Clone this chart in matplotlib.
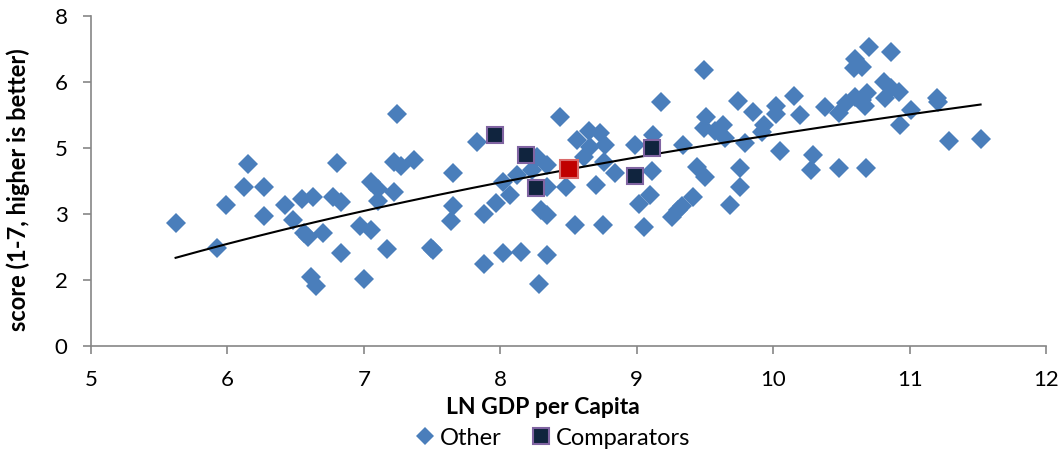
import numpy as np
import matplotlib
matplotlib.use("Agg")
import matplotlib.pyplot as plt
from matplotlib.lines import Line2D

# LN GDP per capita vs score
other_x = [5.62, 5.92, 5.99, 6.15, 6.12, 6.27, 6.27, 6.42, 6.48, 6.55,
           6.63, 6.77, 6.83, 6.80, 6.56, 6.59, 6.70, 6.83, 6.61, 6.65,
           7.24, 7.22, 7.27, 7.37, 7.05, 7.10, 7.22, 7.10, 6.97, 7.05,
           7.17, 7.49, 7.51, 7.00, 7.65, 7.65, 7.64, 7.83, 7.88, 7.97,
           8.02, 8.07, 8.12, 7.88, 8.02, 8.15, 8.28, 8.34, 8.30, 8.34,
           8.55, 8.48, 8.44, 8.27, 8.34, 8.23, 8.34, 8.56, 8.65, 8.73,
           8.66, 8.77, 8.61, 8.76, 8.84, 8.70, 8.75,
           9.49, 9.18, 8.99, 9.12, 9.11, 9.10, 9.02, 9.05, 9.26, 9.30,
           9.33, 9.41, 9.44, 9.50, 9.34, 9.51, 9.49, 9.57, 9.63, 9.65,
           9.74, 9.76, 9.76, 9.68, 9.79, 9.85, 9.93, 9.92, 10.02, 10.02,
           10.05, 10.15, 10.20, 10.29, 10.28, 10.38, 10.48, 10.48, 10.53,
           10.70, 10.86, 10.60, 10.65, 10.59, 10.81, 10.82, 10.92, 10.86,
           10.69, 10.65, 10.67, 10.60, 11.01, 10.93, 11.20, 11.21, 11.29,
           11.52, 10.68]
other_y = [2.99, 2.37, 3.43, 4.41, 3.85, 3.85, 3.16, 3.43, 3.05, 3.57,
           3.60, 3.62, 3.48, 4.43, 2.73, 2.65, 2.75, 2.25, 1.68, 1.46,
           5.62, 4.47, 4.36, 4.51, 3.98, 3.80, 3.74, 3.52, 2.91, 2.81,
           2.34, 2.38, 2.33, 1.62, 4.20, 3.39, 3.04, 4.95, 3.20, 3.46,
           3.98, 3.66, 4.15, 1.99, 2.25, 2.29, 1.50, 2.21, 3.30, 3.18,
           2.93, 3.85, 5.54, 4.59, 4.39, 4.27, 3.86, 4.99, 5.20, 5.16,
           4.83, 4.87, 4.59, 4.47, 4.19, 3.90, 2.93,
           6.69, 5.92, 4.87, 5.12, 4.23, 3.66, 3.44, 2.89, 3.13, 3.30,
           3.39, 3.62, 4.33, 4.10, 4.87, 5.56, 5.28, 5.20, 5.35, 5.04,
           5.95, 4.31, 3.86, 3.42, 4.93, 5.68, 5.35, 5.18, 5.81, 5.62,
           4.73, 6.06, 5.60, 4.63, 4.27, 5.80, 4.31, 5.64, 5.88,
           7.25, 7.13, 6.96, 6.77, 6.73, 6.41, 6.02, 6.15, 6.25,
           6.13, 5.96, 5.82, 6.03, 5.72, 5.35, 6.00, 5.92, 4.97,
           5.01, 4.31]

comp_x = [7.96, 8.19, 8.26, 8.99, 9.11]
comp_y = [5.12, 4.64, 3.82, 4.13, 4.81]

focus_x = [8.50]
focus_y = [4.28]

y_ticks = [0, 1.6, 3.2, 4.8, 6.4, 8]
x_ticks = [5, 6, 7, 8, 9, 10, 11, 12]

plt.rcParams['font.family'] = ['Lato', 'DejaVu Sans']

fig = plt.figure(figsize=(10.62, 4.54), dpi=100)
ax = fig.add_axes([0.0857, 0.2379, 0.8993, 0.7269])

ax.plot(other_x, other_y, linestyle='none', marker='D', markersize=10.5,
        color='#4A7EBB', markeredgewidth=0, zorder=2)

# logarithmic trend line fitted to all points
all_x = np.array(other_x + comp_x + focus_x)
all_y = np.array(other_y + comp_y + focus_y)
b, a = np.polyfit(np.log(all_x), all_y, 1)
tx = np.linspace(all_x.min(), all_x.max(), 200)
ax.plot(tx, a + b * np.log(tx), color='black', linewidth=1.5, zorder=3)

ax.plot(comp_x, comp_y, linestyle='none', marker='s', markersize=11.5,
        markerfacecolor='#10243E', markeredgecolor='#8064A2',
        markeredgewidth=1.5, zorder=4)
ax.plot(focus_x, focus_y, linestyle='none', marker='s', markersize=13,
        markerfacecolor='#C00000', markeredgecolor='#DA6A6A',
        markeredgewidth=1.5, zorder=4)

ax.set_xlim(5, 12)
ax.set_ylim(0, 8)
ax.set_xticks(x_ticks)
ax.set_yticks(y_ticks)
ax.set_yticklabels([f"{v:.0f}" for v in y_ticks])

for side in ['top', 'right']:
    ax.spines[side].set_visible(False)
for side in ['left', 'bottom']:
    ax.spines[side].set_color('#868686')
    ax.spines[side].set_linewidth(1.2)
ax.tick_params(colors='#868686', labelcolor='black', labelsize=16,
               length=6, width=1.2, direction='out')
ax.tick_params(axis='x', pad=11)
ax.tick_params(axis='y', pad=11)

ax.set_xlabel('LN GDP per Capita', fontsize=16.5, fontweight='bold', va='center')
ax.xaxis.set_label_coords(0.473, -0.185)
ax.set_ylabel('score (1-7, higher is better)', fontsize=17,
              fontweight='bold', va='center')
ax.yaxis.set_label_coords(-0.076, 0.473)

handles = [
    Line2D([], [], linestyle='none', marker='D', markersize=9.5,
           color='#4A7EBB', markeredgewidth=0, label='Other'),
    Line2D([], [], linestyle='none', marker='s', markersize=11.5,
           markerfacecolor='#10243E', markeredgecolor='#8064A2',
           markeredgewidth=1.5, label='Comparators'),
]
fig.legend(handles=handles, loc='center', ncol=2, frameon=False,
           fontsize=17, bbox_to_anchor=(0.518, 0.035), handletextpad=0.0,
           handlelength=1.3, columnspacing=1.0, borderpad=0)

fig.savefig('out.png', dpi=100)
